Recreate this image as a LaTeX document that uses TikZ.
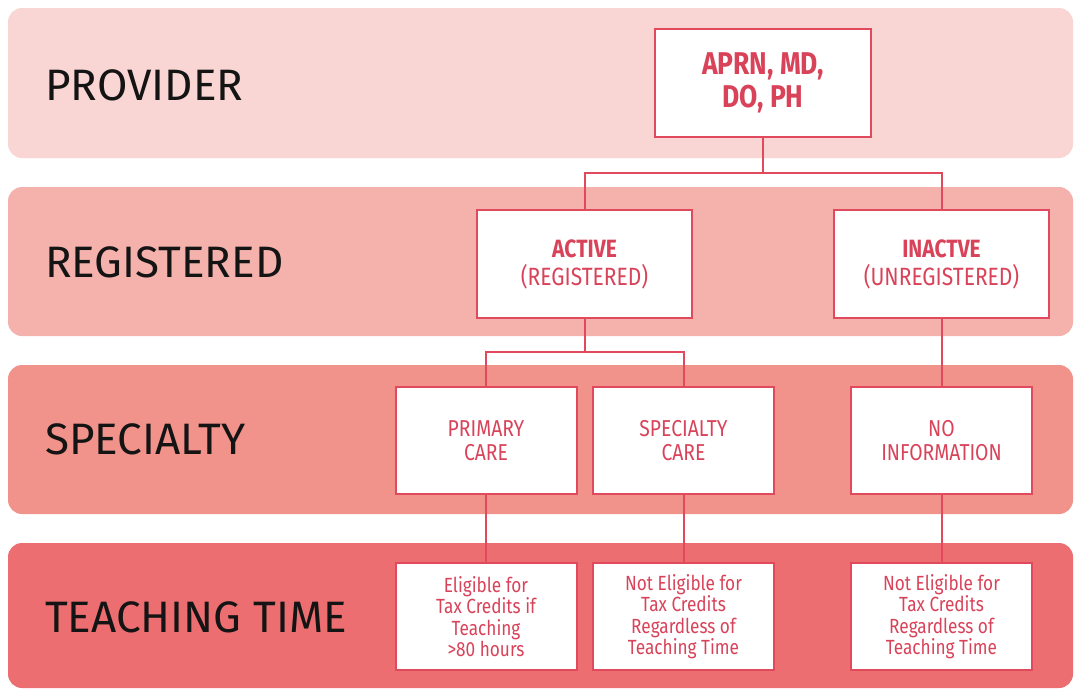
\documentclass[tikz,border=0pt]{standalone}
\usepackage{fontspec}
\setmainfont{Fira Sans}
\newfontfamily\condfont[FakeStretch=0.84]{Fira Sans}
\definecolor{bandA}{HTML}{F9D6D3}
\definecolor{bandB}{HTML}{F5B2AC}
\definecolor{bandC}{HTML}{F1928B}
\definecolor{bandD}{HTML}{EC6E70}
\definecolor{boxred}{HTML}{E04A5C}
\definecolor{txtred}{HTML}{D9435A}
\definecolor{lbl}{HTML}{141414}
\tikzset{
  band/.style={rounded corners=14pt, draw=none},
  bandlabel/.style={anchor=base west, text=lbl, inner sep=0pt, font=\fontsize{44}{44}\selectfont},
  box/.style={draw=boxred, line width=2pt, fill=white, align=center, text=txtred, inner sep=0pt},
  topbox/.style={box, minimum width=216pt, minimum height=108pt, font=\condfont\bfseries\fontsize{31.5}{33}\selectfont},
  midbox/.style={box, minimum width=215pt, minimum height=108pt, font=\condfont\fontsize{25}{28}\selectfont},
  catbox/.style={box, minimum width=181pt, minimum height=107pt, font=\condfont\fontsize{23}{24.5}\selectfont},
  leafbox/.style={box, minimum width=181pt, minimum height=107pt, font=\condfont\fontsize{20.5}{21.5}\selectfont},
  link/.style={draw=boxred, line width=2pt}
}
\begin{document}
\begin{tikzpicture}[x=1pt,y=-1pt]
\useasboundingbox (0,0) rectangle (1075,689);
\fill[white] (0,0) rectangle (1075,689);
% bands
\fill[band, fill=bandA] (8,8) rectangle (1073,158);
\fill[band, fill=bandB] (8,187) rectangle (1073,336);
\fill[band, fill=bandC] (8,365) rectangle (1073,514);
\fill[band, fill=bandD] (8,543) rectangle (1073,688);
% band labels
\node[bandlabel] (lprov) at (45,100) {PROVIDER};
\node[bandlabel] (lreg) at (45,277) {REGISTERED};
\node[bandlabel] (lspec) at (45,454) {SPECIALTY};
\node[bandlabel] (lteach) at (45,632) {TEACHING TIME};
% junction points
\coordinate (j1) at (763,173);
\coordinate (j2) at (584.5,352);
% boxes
\node[topbox] (aprn) at (763,83) {APRN, MD,\\DO, PH};
\node[midbox] (active) at (584.5,264) {{\bfseries ACTIVE}\\(REGISTERED)};
\node[midbox] (inactive) at (941.5,264) {{\bfseries INACTVE}\\(UNREGISTERED)};
\node[catbox] (primary) at (486,440.5) {PRIMARY\\CARE};
\node[catbox] (specialty) at (683.5,440.5) {SPECIALTY\\CARE};
\node[catbox] (noinfo) at (941.5,440.5) {NO\\INFORMATION};
\node[leafbox] (elig) at (486,616.5) {Eligible for\\Tax Credits if\\Teaching\\>80 hours};
\node[leafbox] (notel1) at (683.5,616.5) {Not Eligible for\\Tax Credits\\Regardless of\\Teaching Time};
\node[leafbox] (notel2) at (941.5,616.5) {Not Eligible for\\Tax Credits\\Regardless of\\Teaching Time};
% links
\draw[link] (aprn.south) -- (j1) -| (active.north);
\draw[link] (j1) -| (inactive.north);
\draw[link] (active.south) -- (j2) -| (primary.north);
\draw[link] (j2) -| (specialty.north);
\draw[link] (inactive.south) -- (noinfo.north);
\draw[link] (primary.south) -- (elig.north);
\draw[link] (specialty.south) -- (notel1.north);
\draw[link] (noinfo.south) -- (notel2.north);
\end{tikzpicture}
\end{document}
